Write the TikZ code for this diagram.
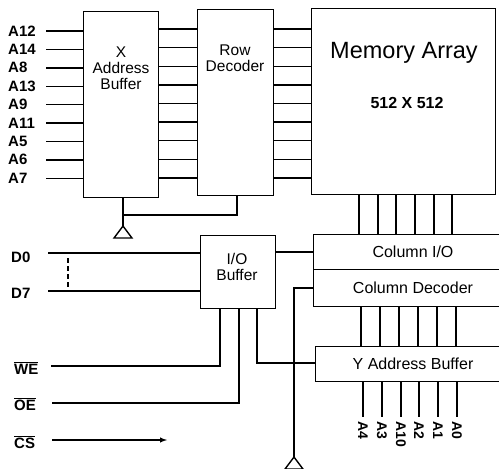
\documentclass[tikz,border=0pt]{standalone}
\usepackage{fontspec}
\setmainfont{Liberation Sans}
\begin{document}
\begin{tikzpicture}[x=1pt,y=-1pt,
  wire/.style={line width=1.4pt},
  box/.style={draw, line width=1.4pt, inner sep=0pt, anchor=north west},
  pinlbl/.style={font=\fontsize{15}{15}\selectfont\bfseries, anchor=west, inner sep=0pt},
  boxtxt/.style={font=\fontsize{15.5}{16}\selectfont, align=center, inner sep=0pt},
  gnd/.style={line width=1.4pt}
]
\useasboundingbox (0,0) rectangle (499,469);
\clip (0,0) rectangle (499,469);
% boxes
\node[box, minimum width=75pt, minimum height=186pt] (xbuf) at (83,11) {};
\node[box, minimum width=76pt, minimum height=186pt] (rowdec) at (197,9) {};
\node[box, minimum width=184pt, minimum height=186pt] (mem) at (311,8) {};
\node[box, minimum width=75pt, minimum height=73pt] (iobuf) at (200,235) {};
\node[box, minimum width=210pt, minimum height=35pt] (colio) at (313,234) {};
\node[box, minimum width=210pt, minimum height=37pt] (coldec) at (313,269) {};
\node[box, minimum width=210pt, minimum height=35pt] (ybuf) at (315,346) {};
% box texts
\node[boxtxt] (txbuf) at (121,68) {X\\Address\\Buffer};
\node[boxtxt] (trow) at (235,58) {Row\\Decoder};
\node[font=\fontsize{23.5}{23.5}\selectfont, inner sep=0pt] (tmem) at (404,53) {Memory Array};
\node[font=\fontsize{16}{16}\selectfont\bfseries, inner sep=0pt] (tsize) at (407,103) {512 X 512};
\node[boxtxt] (tio) at (237,267) {I/O\\Buffer};
\node[font=\fontsize{16}{16}\selectfont, inner sep=0pt] (tcolio) at (413,252) {Column I/O};
\node[font=\fontsize{16}{16}\selectfont, inner sep=0pt] (tcoldec) at (413,288) {Column Decoder};
\node[font=\fontsize{16}{16}\selectfont, inner sep=0pt] (tybuf) at (413,364) {Y Address Buffer};
% address pins
\foreach \lab [count=\i from 0] in {A12,A14,A8,A13,A9,A11,A5,A6,A7} {
  \node[pinlbl] (p\i) at (8,{31+18.4*\i}) {\lab};
  \coordinate (s\i) at (46,{31+18.4*\i});
  \draw[wire] (s\i) -- (s\i -| xbuf.west);
  \coordinate (r\i) at (160,{29+18.6*\i});
  \draw[wire] (r\i -| xbuf.east) -- (r\i -| rowdec.west);
  \draw[wire] (r\i -| rowdec.east) -- (r\i -| mem.west);
}
% ground 1
\coordinate (g1) at (123,226);
\coordinate (g1j) at (123,215);
\draw[wire] (xbuf.south -| g1) -- (g1);
\draw[wire] (g1j) -- (g1j -| 237,0) -- (rowdec.south -| 237,0);
\draw[gnd] (g1) -- ++(-9,12) -- ++(18,0) -- cycle;
% data pins
\node[pinlbl] (d0) at (11,257) {D0};
\node[pinlbl] (d7) at (11,293) {D7};
\coordinate (d0s) at (48,253);
\coordinate (d7s) at (48,291);
\draw[wire] (d0s) -- (d0s -| iobuf.west);
\draw[wire] (d7s) -- (d7s -| iobuf.west);
\coordinate (dt) at (68,258);
\coordinate (db) at (68,288);
\draw[line width=1.4pt, dash pattern=on 5pt off 3pt] (dt) -- (db);
% control pins
\node[pinlbl] (we) at (14,368) {$\overline{\textbf{WE}}$};
\node[pinlbl] (oe) at (14,404) {$\overline{\textbf{OE}}$};
\node[pinlbl] (cs) at (14,442) {$\overline{\textbf{CS}}$};
\coordinate (wes) at (51,366);
\coordinate (oes) at (52,403);
\coordinate (css) at (52,440);
\coordinate (cse) at (167,440);
\draw[wire] (wes) -- (wes -| 220,0) -- (iobuf.south -| 220,0);
\draw[wire] (oes) -- (oes -| 239,0) -- (iobuf.south -| 239,0);
\draw[wire, -latex] (css) -- (cse);
% io buffer to column io
\draw[wire] (iobuf.east |- 0,252) -- (colio.west |- 0,252);
% io buffer to y buffer
\draw[wire] (iobuf.south -| 257,0) -- (257,363) -- (ybuf.west |- 0,363);
% ground 2
\coordinate (g2) at (294,457);
\draw[wire] (coldec.west |- 0,288) -- (294,288) -- (g2);
\draw[gnd] (g2) -- ++(-9,12) -- ++(18,0) -- cycle;
% memory to column io, decoder to ybuf, ybuf pins
\foreach \a/\b/\c/\lab [count=\j] in {359/361/363/A4,378/380/382/A3,396/399/401/A10,415/418/419/A2,434/437/438/A1,452/456/457/A0} {
  \draw[wire] (mem.south -| \a,0) -- (colio.north -| \a,0);
  \draw[wire] (coldec.south -| \b,0) -- (ybuf.north -| \b,0);
  \coordinate (ye\j) at (\c,417);
  \draw[wire] (ybuf.south -| \c,0) -- (ye\j);
  \node[pinlbl, font=\fontsize{14}{14}\selectfont\bfseries, rotate=-90] (ya\j) at (\c,421) {\lab};
}
\end{tikzpicture}
\end{document}
